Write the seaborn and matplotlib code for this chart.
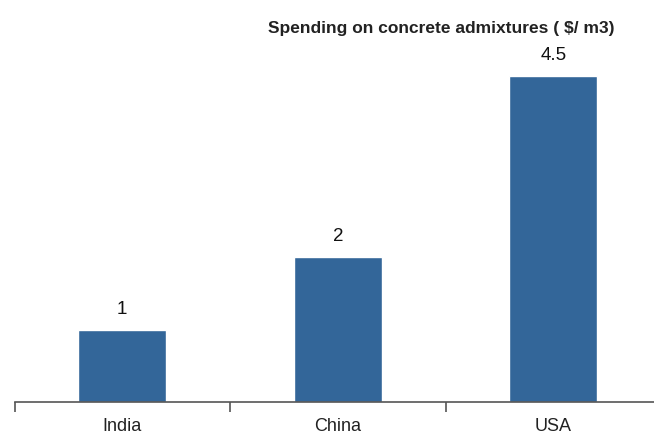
import matplotlib
matplotlib.use("Agg")
import matplotlib.pyplot as plt
import seaborn as sns
import pandas as pd

categories = ["India", "China", "USA"]
values = [1, 2, 4.5]
value_labels = ["1", "2", "4.5"]
title = "Spending on concrete admixtures ( $/ m3)"

sns.set_theme(style="white")
plt.rcParams['font.family'] = ['Liberation Sans', 'DejaVu Sans']

fig = plt.figure(figsize=(6.54, 4.36), dpi=100)
ax = fig.add_axes([14.5/654, 34/436, 646.5/654, 362/436])

df = pd.DataFrame({"cat": categories, "val": values})
sns.barplot(data=df, x="cat", y="val", color="#336699", saturation=1, width=0.41, ax=ax)

ax.set_xlim(-0.5, 2.5)
ax.set_ylim(0, 5)
for s in ["left", "right", "top"]:
    ax.spines[s].set_visible(False)
ax.spines["bottom"].set_color("#555555")
ax.spines["bottom"].set_linewidth(1.2)
ax.set_yticks([])
ax.set_xlabel("")
ax.set_ylabel("")

ax.set_xticks([-0.5, 0.5, 1.5, 2.5])
ax.set_xticklabels([])
ax.tick_params(axis="x", which="major", length=7.5, width=1.2, color="#555555", direction="out", bottom=True)
ax.set_xticks([0, 1, 2], minor=True)
ax.set_xticklabels(categories, minor=True, fontsize=13, color="#222222")
ax.tick_params(axis="x", which="minor", length=0, pad=11.5)

for i, (v, lab) in enumerate(zip(values, value_labels)):
    ax.annotate(lab, xy=(i, v), xytext=(0, 8.5), textcoords="offset points",
                ha="center", va="bottom", fontsize=13.5, color="#111111")

fig.text(614/654, 1 - 28/436, title, ha="right", va="center", fontsize=12.5,
         fontweight="bold", color="#222222")

fig.savefig("out.png", dpi=100)
